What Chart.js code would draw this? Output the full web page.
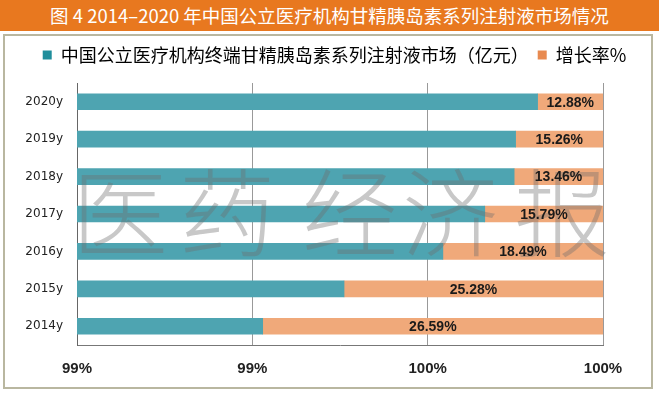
<!DOCTYPE html>
<html>
<head>
<meta charset="utf-8">
<script src="https://cdn.jsdelivr.net/npm/chart.js@4.4.0/dist/chart.umd.min.js"></script>
<style>
  body { margin: 0; background: #fff; width: 659px; height: 394px; overflow: hidden; position: relative; }
  #title { position: absolute; left: 0; top: 0; width: 659px; height: 31px; background: #e8781f; color: #fff;
           font: 400 18.5px 'Noto Sans CJK SC', sans-serif; line-height: 31px; text-align: center; }
  #frame { position: absolute; left: 3px; top: 34px; width: 650px; height: 355px; box-sizing: border-box;
           border: 2px solid #b9b7a0; }
  #chart { position: absolute; left: 0; top: 0; }
</style>
</head>
<body>
<div id="title">图 4 2014–2020 年中国公立医疗机构甘精胰岛素系列注射液市场情况</div>
<div id="frame"></div>
<canvas id="chart" width="659" height="394"></canvas>
<script>
// categories, top to bottom
const years = ['2020y', '2019y', '2018y', '2017y', '2016y', '2015y', '2014y'];
// market size (亿元)
const market = [115.0, 101.9, 88.4, 77.9, 67.3, 56.8, 45.4];
// growth rate (%)
const growth = [12.88, 15.26, 13.46, 15.79, 18.49, 25.28, 26.59];
// x axis tick labels as printed
const xTickLabels = ['99%', '99%', '100%', '100%'];

const legendNames = ['中国公立医疗机构终端甘精胰岛素系列注射液市场（亿元）', '增长率%'];

// 100% stacked: growth is stored as a decimal next to the market value
const marketShare = market.map((m, i) => m / (m + growth[i] / 100) * 100);
const growthShare = marketShare.map(s => 100 - s);

const decor = {
  id: 'decor',
  afterInit(chart) {
    // a bit more room under the legend
    const legend = chart.legend;
    const fit = legend.fit;
    legend.fit = function () {
      fit.call(this);
      this.height += 9;
    };
  },
  afterLayout(chart) {
    // centre the legend on the frame, not on the plot box
    chart.legend.left += 33;
    chart.legend.right += 33;
  },
  afterDatasetsDraw(chart) {
    const c = chart.ctx;
    const chars = ['医', '药', '经', '济', '报'];
    const xs = [120, 227, 350, 450, 562];
    c.save();
    c.font = "300 96px 'Noto Sans CJK SC'";
    c.fillStyle = 'rgba(110,110,110,0.38)';
    c.textAlign = 'center';
    c.textBaseline = 'middle';
    chars.forEach((ch, i) => c.fillText(ch, xs[i], 213));
    c.restore();

    // growth labels in the orange segments
    const meta = chart.getDatasetMeta(1);
    c.save();
    c.font = "bold 14px 'Liberation Sans'";
    c.fillStyle = '#1a1a1a';
    c.textAlign = 'center';
    c.textBaseline = 'middle';
    meta.data.forEach((bar, i) => {
      c.fillText(growth[i].toFixed(2) + '%', (bar.x + bar.base) / 2, bar.y + 1);
    });
    c.restore();
  }
};

const ctx = document.getElementById('chart');

new Chart(ctx, {
  type: 'bar',
  data: {
    labels: years,
    datasets: [{
      label: legendNames[0],
      data: marketShare,
      backgroundColor: '#4ea4b1',
      barThickness: 16
    }, {
      label: legendNames[1],
      data: growthShare,
      backgroundColor: '#f0a97a',
      barThickness: 16
    }]
  },
  options: {
    indexAxis: 'y',
    responsive: false,
    animation: false,
    layout: { padding: { top: 37, left: 0, right: 56, bottom: 9 } },
    plugins: {
      legend: {
        labels: {
          boxWidth: 9,
          boxHeight: 9,
          padding: 9,
          color: '#333',
          font: { family: "'Noto Sans CJK SC'", size: 18 },
          generateLabels: () => [
            { text: legendNames[0], fillStyle: '#1f8e9c', strokeStyle: '#1f8e9c', lineWidth: 0, datasetIndex: 0 },
            { text: legendNames[1], fillStyle: '#e88a50', strokeStyle: '#e88a50', lineWidth: 0, datasetIndex: 1 }
          ]
        }
      },
      tooltip: { enabled: false }
    },
    scales: {
      x: {
        stacked: true,
        min: 99.1,
        max: 100,
        ticks: {
          stepSize: 0.3,
          padding: 15,
          color: '#222',
          font: { family: "'Liberation Sans'", size: 15, weight: 'bold' },
          callback: (v, i) => xTickLabels[i]
        },
        grid: { color: '#999', drawTicks: false },
        border: { color: '#777' },
        afterFit: s => { s.height = 40; }
      },
      y: {
        stacked: true,
        ticks: {
          padding: 14,
          color: '#222',
          font: { family: "'DejaVu Sans'", size: 12 }
        },
        grid: { display: false, drawTicks: false },
        border: { display: true, color: '#666' },
        afterFit: s => { s.width = 77; }
      }
    }
  },
  plugins: [decor]
});
</script>
</body>
</html>
